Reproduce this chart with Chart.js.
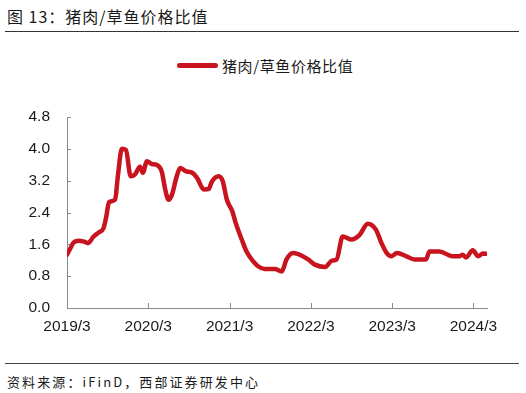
<!DOCTYPE html>
<html><head><meta charset="utf-8">
<script src="https://cdn.jsdelivr.net/npm/chart.js@4/dist/chart.umd.min.js"></script>
<style>
html,body{margin:0;padding:0;background:#fff;width:526px;height:393px;overflow:hidden;position:relative;font-family:"Noto Sans CJK SC",sans-serif;color:#1a1a1a;}
#title{position:absolute;left:7px;top:8px;font-size:16px;line-height:16px;letter-spacing:1px;white-space:nowrap;}
#tline{position:absolute;left:5px;width:514px;top:31px;height:0;border-top:1.5px solid #333;}
#legend{position:absolute;left:176px;top:58px;height:16px;white-space:nowrap;}
#legbar{position:absolute;left:1px;top:5px;width:41px;height:5px;border-radius:3px;background:#C8141E;}
#legtxt{position:absolute;left:46px;top:0;font-size:15px;line-height:15px;letter-spacing:0.6px;}
#wrap{position:absolute;left:0;top:100px;width:526px;height:238px;}
#fline{position:absolute;left:5px;width:514px;top:363px;height:0;border-top:1.5px solid #444;}
#src{position:absolute;left:7px;top:375px;font-size:13px;line-height:13px;letter-spacing:2.1px;white-space:nowrap;}
</style></head>
<body>
<div id="title">图 13：猪肉/草鱼价格比值</div>
<div id="tline"></div>
<div id="legend"><div id="legbar"></div><div id="legtxt">猪肉/草鱼价格比值</div></div>
<div id="wrap"><canvas id="c" width="526" height="238"></canvas></div>
<div id="fline"></div>
<div id="src">资料来源：iFinD，西部证券研发中心</div>
<script>
// months counted from 2019/3
const months = [0,0.5,0.9,1.7,2.5,3.1,3.9,4.7,5.4,5.8,6.2,7.1,7.5,8.1,8.7,9.4,10.0,10.8,11.2,11.8,12.5,13.2,14.0,14.5,15.0,15.5,16.2,16.7,17.5,18.5,19.2,20.2,20.9,21.4,22.4,23.0,23.6,24.4,24.9,25.8,26.5,27.5,28.2,29.2,30.7,31.7,32.4,33.4,34.6,35.6,36.6,38.1,39.1,39.8,40.7,42.0,43.2,44.4,45.6,46.4,47.2,47.9,48.7,50.1,51.3,53.0,53.5,55.0,56.9,57.9,58.4,58.9,59.9,60.7,61.4,62.0];
const ratio = [1.34,1.50,1.63,1.69,1.67,1.63,1.79,1.90,2.01,2.30,2.66,2.72,3.30,4.00,3.97,3.31,3.35,3.55,3.40,3.69,3.62,3.60,3.42,2.98,2.72,2.85,3.31,3.52,3.44,3.40,3.27,2.98,2.99,3.18,3.31,3.18,2.72,2.43,2.14,1.72,1.42,1.17,1.05,0.98,0.98,0.92,1.22,1.38,1.32,1.22,1.09,1.03,1.19,1.22,1.80,1.72,1.84,2.12,1.97,1.64,1.38,1.30,1.38,1.30,1.22,1.22,1.42,1.42,1.30,1.30,1.34,1.27,1.45,1.30,1.37,1.36];
const tickMonths = [0,12,24,36,48,60];
const tickLabels = ['2019/3','2020/3','2021/3','2022/3','2023/3','2024/3'];
const yTicks = [0,0.8,1.6,2.4,3.2,4.0,4.8];
const seriesName = '猪肉/草鱼价格比值';

const axisColor = '#8c8c8c';
const inwardTicks = {
  id:'inwardTicks',
  beforeDatasetsDraw(chart){
    const {ctx, chartArea:a, scales:{x,y}} = chart;
    ctx.save();
    ctx.strokeStyle = axisColor; ctx.lineWidth = 1;
    ctx.beginPath();
    yTicks.forEach(v=>{const py=Math.round(y.getPixelForValue(v))+0.5; ctx.moveTo(a.left,py); ctx.lineTo(a.left+4,py);});
    tickMonths.forEach(v=>{const px=Math.round(x.getPixelForValue(v))+0.5; ctx.moveTo(px,a.bottom); ctx.lineTo(px,a.bottom-5);});
    ctx.stroke();
    ctx.restore();
  }
};
const tickFont = {family:'"Liberation Sans", Arial, sans-serif', size:15.5};
new Chart(document.getElementById('c'), {
  type:'line',
  data:{datasets:[{label:seriesName, data:months.map((m,i)=>({x:m,y:ratio[i]})), borderColor:'#C8141E', backgroundColor:'#C8141E', borderWidth:4.5, pointRadius:0, tension:0.3, cubicInterpolationMode:'monotone', borderCapStyle:'round', borderJoinStyle:'round', fill:false}]},
  options:{
    responsive:false, animation:false, devicePixelRatio:1,
    layout:{padding:{left:0,right:39,top:17,bottom:0}},
    plugins:{legend:{display:false}, tooltip:{enabled:false}},
    scales:{
      x:{type:'linear', min:0, max:62,
        afterBuildTicks:s=>{s.ticks=tickMonths.map(v=>({value:v}));},
        afterFit:s=>{s.height=30; s.paddingLeft=0; s.paddingRight=0;},
        grid:{display:false, drawTicks:false},
        border:{display:true, color:axisColor, width:1},
        ticks:{padding:9, maxRotation:0, autoSkip:false, font:tickFont, color:'#1a1a1a', callback:v=>tickLabels[tickMonths.indexOf(v)]}},
      y:{min:0, max:4.8,
        afterBuildTicks:s=>{s.ticks=yTicks.map(v=>({value:v}));},
        afterFit:s=>{s.width=67; s.paddingTop=0; s.paddingBottom=0;},
        grid:{display:false, drawTicks:false},
        border:{display:true, color:axisColor, width:1},
        ticks:{padding:17, font:tickFont, color:'#1a1a1a', callback:v=>v.toFixed(1)}}
    }
  },
  plugins:[inwardTicks]
});
</script>
</body></html>
